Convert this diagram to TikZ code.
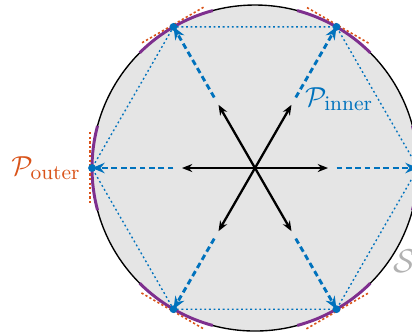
\documentclass[tikz,border=0pt]{standalone}
\usepackage{amsmath}
\usetikzlibrary{arrows.meta,positioning}
\definecolor{pblue}{HTML}{0072BD}
\definecolor{porange}{HTML}{D95319}
\definecolor{ppurple}{HTML}{7E2F8E}
\begin{document}
\begin{tikzpicture}[
	boundary/.style={fill=gray!20, draw=black, line width=0.6pt},
	arcpiece/.style={draw=ppurple, line width=1.3pt},
	tangent/.style={draw=porange, line width=0.7pt, dash pattern=on 1pt off 1pt},
	hexedge/.style={draw=pblue, line width=0.6pt, dash pattern=on 0.8pt off 1.2pt},
	innerarrow/.style={draw=pblue, line width=1.25pt, dash pattern=on 2.5pt off 1.6pt, -{Stealth[length=5.5pt,width=4.5pt]}},
	centerarrow/.style={draw=black, line width=1pt, -{Stealth[length=4.5pt,width=3.5pt]}},
	vertexdot/.style={circle, fill=pblue, inner sep=0pt, minimum size=3.4pt},
	labeltext/.style={font=\fontsize{13}{16}\selectfont}]
	\useasboundingbox (-3.911,-2.515) rectangle (2.408,2.577);
	\coordinate (o) at (0,0);
	\coordinate (v0) at (0:2.5);
	\coordinate (v1) at (60:2.5);
	\coordinate (v2) at (120:2.5);
	\coordinate (v3) at (180:2.5);
	\coordinate (v4) at (240:2.5);
	\coordinate (v5) at (300:2.5);
	\coordinate (m0) at (0:1.25);
	\coordinate (m1) at (60:1.25);
	\coordinate (m2) at (120:1.25);
	\coordinate (m3) at (180:1.25);
	\coordinate (m4) at (240:1.25);
	\coordinate (m5) at (300:1.25);
	\coordinate (c0) at (0:1.12);
	\coordinate (c1) at (60:1.12);
	\coordinate (c2) at (120:1.12);
	\coordinate (c3) at (180:1.12);
	\coordinate (c4) at (240:1.12);
	\coordinate (c5) at (300:1.12);
	\draw[boundary] (o) circle[radius=2.5];
	\draw[arcpiece] (-15:2.5) arc[start angle=-15, end angle=15, radius=2.5];
	\draw[arcpiece] (45:2.5) arc[start angle=45, end angle=75, radius=2.5];
	\draw[arcpiece] (105:2.5) arc[start angle=105, end angle=135, radius=2.5];
	\draw[arcpiece] (165:2.5) arc[start angle=165, end angle=195, radius=2.5];
	\draw[arcpiece] (225:2.5) arc[start angle=225, end angle=255, radius=2.5];
	\draw[arcpiece] (285:2.5) arc[start angle=285, end angle=315, radius=2.5];
	\draw[tangent, rotate=0] (2.53,-0.55) -- (2.53,0.55);
	\draw[tangent, rotate=60] (2.53,-0.55) -- (2.53,0.55);
	\draw[tangent, rotate=120] (2.53,-0.55) -- (2.53,0.55);
	\draw[tangent, rotate=180] (2.53,-0.55) -- (2.53,0.55);
	\draw[tangent, rotate=240] (2.53,-0.55) -- (2.53,0.55);
	\draw[tangent, rotate=300] (2.53,-0.55) -- (2.53,0.55);
	\draw[hexedge] (v0) -- (v1) -- (v2) -- (v3) -- (v4) -- (v5) -- cycle;
	\draw[innerarrow] (m0) -- (v0);
	\draw[innerarrow] (m1) -- (v1);
	\draw[innerarrow] (m2) -- (v2);
	\draw[innerarrow] (m3) -- (v3);
	\draw[innerarrow] (m4) -- (v4);
	\draw[innerarrow] (m5) -- (v5);
	\draw[centerarrow] (o) -- (c0);
	\draw[centerarrow] (o) -- (c1);
	\draw[centerarrow] (o) -- (c2);
	\draw[centerarrow] (o) -- (c3);
	\draw[centerarrow] (o) -- (c4);
	\draw[centerarrow] (o) -- (c5);
	\node[vertexdot] (d0) at (v0){};
	\node[vertexdot] (d1) at (v1){};
	\node[vertexdot] (d2) at (v2){};
	\node[vertexdot] (d3) at (v3){};
	\node[vertexdot] (d4) at (v4){};
	\node[vertexdot] (d5) at (v5){};
	\node[labeltext, text=porange, left=0.05cm of v3] (pouter){$\mathcal{P}_{\text{outer}}$};
	\node[labeltext, text=pblue] (pinner) at (1.29,1.05){$\mathcal{P}_{\text{inner}}$};
	\node[text=gray!60, font=\Large] (slabel) at (2.3,-1.43){$\mathcal{S}$};
\end{tikzpicture}
\end{document}
